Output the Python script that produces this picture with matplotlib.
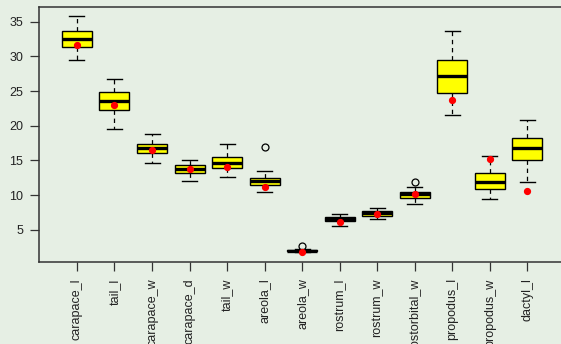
import matplotlib
matplotlib.use("Agg")
import matplotlib.pyplot as plt

categories = ["carapace_l", "tail_l", "carapace_w", "carapace_d", "tail_w",
              "areola_l", "areola_w", "rostrum_l", "rostrum_w", "postorbital_w",
              "propodus_l", "propodus_w", "dactyl_l"]
whislo = [29.43, 19.56, 14.57, 12.01, 12.59, 10.43, 1.85, 5.47, 6.53, 8.69, 21.58, 9.37, 11.91]
q1     = [31.35, 22.30, 16.00, 13.17, 13.85, 11.39, 1.93, 6.20, 7.00, 9.52, 24.71, 10.82, 15.09]
med    = [32.50, 23.56, 16.82, 13.75, 14.57, 12.01, 1.98, 6.53, 7.35, 10.14, 27.12, 11.83, 16.77]
q3     = [33.60, 24.81, 17.31, 14.28, 15.43, 12.49, 2.05, 6.86, 7.68, 10.38, 29.43, 13.12, 18.17]
whishi = [35.78, 26.73, 18.75, 15.09, 17.40, 13.50, 2.15, 7.29, 8.16, 11.15, 33.70, 15.58, 20.86]
means  = [31.64, 22.98, 16.44, 13.79, 14.08, 11.15, 1.75, 6.14, 7.25, 10.14, 23.66, 15.19, 10.53]
outliers = [[], [], [], [], [], [16.88], [2.62], [], [], [11.87], [], [], []]
yticks = [5, 10, 15, 20, 25, 30, 35]

bg = "#e6efe4"
spine_c = "#333333"

fig = plt.figure(figsize=(5.61, 3.44), dpi=100, facecolor=bg)
ax = fig.add_axes([39.4 / 561, (344 - 261.7) / 344, 525.5 / 561, (261.7 - 7.3) / 344])
ax.set_facecolor(bg)

stats = []
for i, name in enumerate(categories):
    stats.append(dict(label=name, whislo=whislo[i], q1=q1[i], med=med[i], q3=q3[i],
                      whishi=whishi[i], fliers=outliers[i]))

positions = list(range(1, len(categories) + 1))
ax.bxp(stats, positions=positions, widths=0.8, patch_artist=True,
       showfliers=True,
       boxprops=dict(facecolor="#ffff00", edgecolor="black", linewidth=1.0),
       medianprops=dict(color="black", linewidth=2.4, solid_capstyle="butt"),
       whiskerprops=dict(color="black", linewidth=0.9, linestyle=(0, (3.5, 3))),
       capprops=dict(color="black", linewidth=1.0),
       capwidths=0.4,
       flierprops=dict(marker="o", markerfacecolor="none", markeredgecolor="black",
                       markersize=5, markeredgewidth=0.9))

ax.plot(positions, means, linestyle="none", marker="o", markersize=4.2,
        color="#ff0000", markeredgecolor="#ff0000", zorder=5)

ax.set_xlim(0, 14)
ax.set_ylim(0.38, 37.08)
ax.set_yticks(yticks)
ax.set_yticklabels([str(v) for v in yticks], family=["Liberation Sans", "DejaVu Sans"],
                   fontsize=9, color="#222222")
ax.set_xticks(positions)
ax.set_xticklabels(categories, rotation=90, family=["Liberation Sans", "DejaVu Sans"],
                   fontsize=9, color="#222222", va="top", ha="center")

ax.tick_params(axis="y", length=6.5, width=0.9, color=spine_c, pad=5)
ax.tick_params(axis="x", length=6.5, width=0.9, color=spine_c, pad=5.5)

for s in ["left", "bottom", "top"]:
    ax.spines[s].set_color(spine_c)
    ax.spines[s].set_linewidth(1.1)
ax.spines["right"].set_visible(False)

fig.savefig("out.png", dpi=100, facecolor=bg)
